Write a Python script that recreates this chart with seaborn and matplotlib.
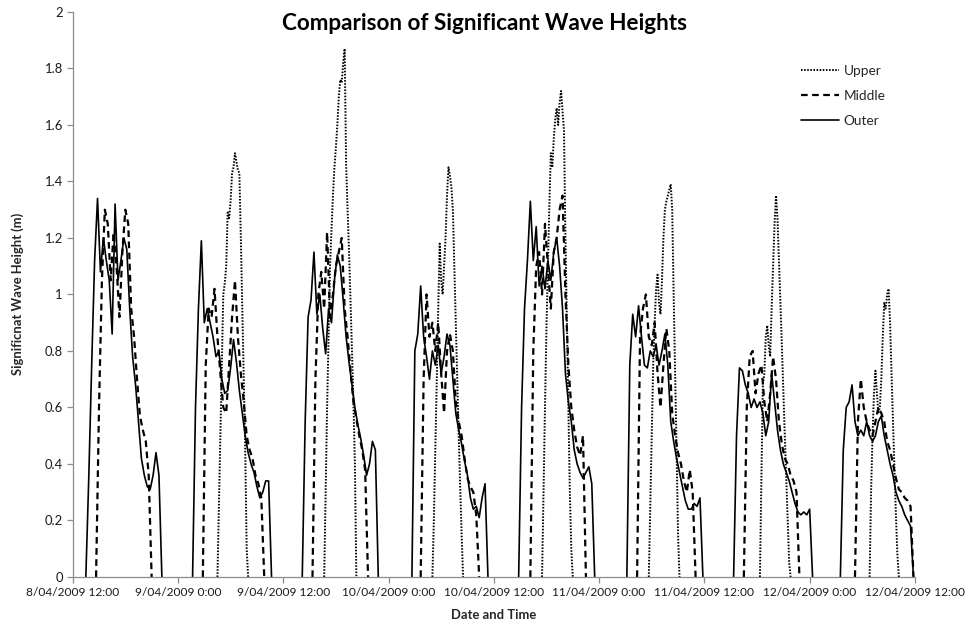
import pandas as pd
import numpy as np
import matplotlib
matplotlib.use('Agg')
import matplotlib.pyplot as plt
from matplotlib.lines import Line2D
import seaborn as sns

sns.set_theme(style='ticks')
plt.rcParams['font.family'] = ['Lato', 'DejaVu Sans']

# start of each immersion (burst) per sensor
outer_starts = ['2009-04-08 13:30', '2009-04-09 01:40', '2009-04-09 14:10', '2009-04-10 02:40',
                '2009-04-10 14:50', '2009-04-11 03:10', '2009-04-11 15:20', '2009-04-12 03:30']
middle_starts = ['2009-04-08 14:40', '2009-04-09 02:50', '2009-04-09 15:20', '2009-04-10 03:40',
                 '2009-04-10 16:10', '2009-04-11 04:20', '2009-04-11 16:30', '2009-04-12 05:10']
upper_starts = ['2009-04-09 04:30', '2009-04-09 16:40', '2009-04-10 05:00',
                '2009-04-10 17:30', '2009-04-11 05:40', '2009-04-11 18:20', '2009-04-12 06:50']

# Hs (m), outer + middle every 20 min, upper every 10 min
outer_1 = [0, 0.35, 0.75, 1.12, 1.34, 1.08, 1.2, 1.12, 1.05, 0.86, 1.32, 1.05, 1.12, 1.2, 1.16, 0.95, 0.78, 0.68, 0.55, 0.42, 0.36, 0.32, 0.31, 0.36, 0.44, 0.36, 0]
outer_2 = [0, 0.6, 0.95, 1.19, 0.9, 0.95, 0.9, 0.85, 0.78, 0.8, 0.7, 0.65, 0.66, 0.74, 0.84, 0.76, 0.66, 0.58, 0.5, 0.44, 0.4, 0.37, 0.32, 0.28, 0.3, 0.34, 0.34, 0]
outer_3 = [0, 0.55, 0.92, 0.98, 1.15, 0.93, 1.0, 0.88, 0.79, 0.95, 0.9, 1.05, 1.14, 1.1, 0.98, 0.85, 0.76, 0.68, 0.6, 0.54, 0.49, 0.43, 0.36, 0.4, 0.48, 0.45, 0]
outer_4 = [0, 0.8, 0.86, 1.03, 0.85, 0.78, 0.7, 0.8, 0.75, 0.82, 0.72, 0.78, 0.86, 0.82, 0.7, 0.58, 0.52, 0.47, 0.41, 0.36, 0.28, 0.24, 0.25, 0.21, 0.28, 0.33, 0]
outer_5 = [0, 0.6, 0.95, 1.12, 1.33, 1.12, 1.24, 1.03, 1.1, 1.02, 1.12, 1.05, 1.15, 1.2, 1.1, 0.95, 0.72, 0.62, 0.55, 0.45, 0.4, 0.37, 0.35, 0.37, 0.39, 0.33, 0]
outer_6 = [0, 0.75, 0.93, 0.85, 0.96, 0.85, 0.75, 0.74, 0.8, 0.78, 0.82, 0.75, 0.8, 0.86, 0.75, 0.55, 0.48, 0.42, 0.37, 0.32, 0.27, 0.24, 0.24, 0.26, 0.25, 0.28, 0]
outer_7 = [0, 0.5, 0.74, 0.73, 0.68, 0.65, 0.6, 0.63, 0.6, 0.62, 0.58, 0.5, 0.55, 0.72, 0.62, 0.52, 0.45, 0.4, 0.37, 0.34, 0.3, 0.26, 0.23, 0.22, 0.23, 0.22, 0.24, 0]
outer_8 = [0, 0.45, 0.6, 0.62, 0.68, 0.55, 0.5, 0.52, 0.5, 0.55, 0.5, 0.48, 0.5, 0.55, 0.57, 0.5, 0.45, 0.4, 0.36, 0.3, 0.27, 0.25, 0.22, 0.2, 0.18, 0]

middle_1 = [0, 0.6, 1.05, 1.3, 1.25, 1.05, 1.22, 1.1, 0.92, 1.15, 1.3, 1.25, 0.95, 0.85, 0.7, 0.57, 0.52, 0.48, 0.36, 0]
middle_2 = [0, 0.75, 0.95, 0.92, 1.02, 0.85, 0.72, 0.6, 0.58, 0.75, 0.92, 1.05, 0.85, 0.72, 0.62, 0.5, 0.45, 0.42, 0.36, 0.33, 0.28, 0]
middle_3 = [0, 0.7, 1.0, 1.08, 0.95, 1.22, 0.92, 1.0, 1.1, 1.15, 1.2, 0.95, 0.85, 0.73, 0.62, 0.56, 0.5, 0.45, 0.38, 0]
middle_4 = [0, 0.7, 1.0, 0.85, 0.9, 0.8, 0.9, 0.72, 0.58, 0.8, 0.86, 0.8, 0.62, 0.55, 0.5, 0.42, 0.35, 0.32, 0.3, 0.22, 0]
middle_5 = [0, 0.8, 1.1, 1.15, 1.0, 1.25, 1.1, 0.95, 1.15, 1.2, 1.3, 1.35, 1.0, 0.75, 0.6, 0.52, 0.46, 0.43, 0.5, 0]
middle_6 = [0, 0.85, 0.95, 1.0, 0.85, 0.82, 0.9, 0.72, 0.6, 0.75, 0.88, 0.8, 0.58, 0.5, 0.44, 0.4, 0.34, 0.3, 0.38, 0.3, 0]
middle_7 = [0, 0.6, 0.78, 0.8, 0.65, 0.72, 0.75, 0.62, 0.55, 0.65, 0.78, 0.7, 0.55, 0.47, 0.42, 0.4, 0.36, 0.34, 0.3, 0]
middle_8 = [0, 0.55, 0.7, 0.6, 0.55, 0.52, 0.5, 0.55, 0.6, 0.58, 0.55, 0.48, 0.45, 0.4, 0.35, 0.31, 0.3, 0.28, 0.27, 0.25, 0]

upper_2 = [0, 0.25, 0.5, 0.75, 1.0, 1.04, 1.1, 1.29, 1.27, 1.33, 1.43, 1.45, 1.5, 1.47, 1.44, 1.43, 1.2, 0.95, 0.7, 0.45, 0.1, 0]
upper_3 = [0, 0.3, 0.6, 0.85, 1.1, 1.23, 1.35, 1.45, 1.52, 1.6, 1.7, 1.76, 1.75, 1.82, 1.87, 1.46, 1.3, 1.15, 0.98, 0.8, 0.62, 0.4, 0]
upper_4 = [0, 0.2, 0.45, 0.7, 0.95, 1.18, 1.05, 1.0, 1.1, 1.2, 1.35, 1.45, 1.42, 1.38, 1.3, 1.1, 0.9, 0.7, 0.5, 0.32, 0.15, 0]
upper_5 = [0, 0.3, 0.6, 0.88, 1.1, 1.32, 1.5, 1.45, 1.55, 1.62, 1.66, 1.6, 1.68, 1.72, 1.65, 1.58, 1.2, 0.9, 0.6, 0.3, 0.1, 0]
upper_6 = [0, 0.25, 0.5, 0.75, 0.9, 1.02, 1.07, 0.97, 0.93, 1.05, 1.2, 1.3, 1.33, 1.35, 1.37, 1.39, 1.3, 1.0, 0.72, 0.45, 0.15, 0]
upper_7 = [0, 0.35, 0.68, 0.72, 0.85, 0.89, 0.82, 0.78, 0.95, 1.1, 1.25, 1.35, 1.27, 1.12, 0.97, 0.82, 0.66, 0.5, 0.35, 0.2, 0.05, 0]
upper_8 = [0, 0.3, 0.5, 0.65, 0.73, 0.65, 0.58, 0.6, 0.7, 0.85, 0.97, 0.95, 1.0, 1.02, 0.9, 0.72, 0.55, 0.38, 0.22, 0.08, 0]

outer = [outer_1, outer_2, outer_3, outer_4, outer_5, outer_6, outer_7, outer_8]
middle = [middle_1, middle_2, middle_3, middle_4, middle_5, middle_6, middle_7, middle_8]
upper = [upper_2, upper_3, upper_4, upper_5, upper_6, upper_7, upper_8]

tick_times = pd.date_range('2009-04-08 12:00', '2009-04-12 12:00', freq='12h')
tick_labels = ['8/04/2009 12:00', '9/04/2009 0:00', '9/04/2009 12:00', '10/04/2009 0:00',
               '10/04/2009 12:00', '11/04/2009 0:00', '11/04/2009 12:00', '12/04/2009 0:00',
               '12/04/2009 12:00']

# long table, one row per reading
rows = []
for name, starts, bursts, step in [('Upper', upper_starts, upper, '10min'),
                                   ('Middle', middle_starts, middle, '20min'),
                                   ('Outer', outer_starts, outer, '20min')]:
    for i, (st, vals) in enumerate(zip(starts, bursts)):
        t = pd.date_range(st, periods=len(vals), freq=step)
        rows.append(pd.DataFrame({'time': t, 'hs': vals, 'sensor': name, 'burst': f'{name}{i}'}))
df = pd.concat(rows, ignore_index=True)

dash_map = {'Upper': (0.8, 0.8), 'Middle': (3, 2), 'Outer': ''}
lw_map = {'Upper': 1.4, 'Middle': 1.6, 'Outer': 1.2}

fig = plt.figure(figsize=(9.69, 6.29), dpi=100)
ax = fig.add_axes([0.0750, 0.0827, 0.8692, 0.8983])

for name in ['Upper', 'Middle', 'Outer']:
    sub = df[df['sensor'] == name]
    sns.lineplot(data=sub, x='time', y='hs', units='burst', estimator=None,
                 color='black', lw=lw_map[name], dashes=False, legend=False, ax=ax,
                 sort=False)
    for ln in ax.lines[-sub['burst'].nunique():]:
        if dash_map[name]:
            ln.set_dashes(dash_map[name])

ax.set_xlim(tick_times[0], tick_times[-1])
ax.set_ylim(0, 2)
ax.set_yticks(np.arange(0, 2.01, 0.2))
ax.set_yticklabels(['0', '0.2', '0.4', '0.6', '0.8', '1', '1.2', '1.4', '1.6', '1.8', '2'])
ax.set_xticks(tick_times)
ax.set_xticklabels(tick_labels)
ax.set_xlabel('')
ax.set_ylabel('')

for s in ['top', 'right']:
    ax.spines[s].set_visible(False)
for s in ['left', 'bottom']:
    ax.spines[s].set_color('#8c8c8c')
    ax.spines[s].set_linewidth(0.9)
ax.tick_params(axis='both', colors='#8c8c8c', length=4, width=0.9, labelsize=8.6,
               labelcolor='#1a1a1a', pad=3)
ax.tick_params(axis='y', labelsize=9.4)

handles = []
for n in ['Upper', 'Middle', 'Outer']:
    h = Line2D([], [], color='black', lw=lw_map[n])
    if dash_map[n]:
        h.set_dashes(dash_map[n])
    handles.append(h)
leg = ax.legend(handles, ['Upper', 'Middle', 'Outer'], loc='upper left', frameon=False,
                bbox_to_anchor=(0.85, 0.928), fontsize=9.8, handlelength=2.8,
                handletextpad=0.35, labelspacing=0.95)

fig.text(484.5 / 969, 1 - 23 / 629, 'Comparison of Significant Wave Heights', ha='center', va='center',
         fontsize=16.2, fontweight='bold', color='black')
fig.text(494 / 969, 1 - 615 / 629, 'Date and Time', ha='center', va='center',
         fontsize=9.4, fontweight='bold')
fig.text(18 / 969, 1 - 294 / 629, 'Significnat Wave Height (m)', ha='center', va='center',
         rotation=90, fontsize=9.4, fontweight='bold')

fig.savefig('out.png', dpi=100)
